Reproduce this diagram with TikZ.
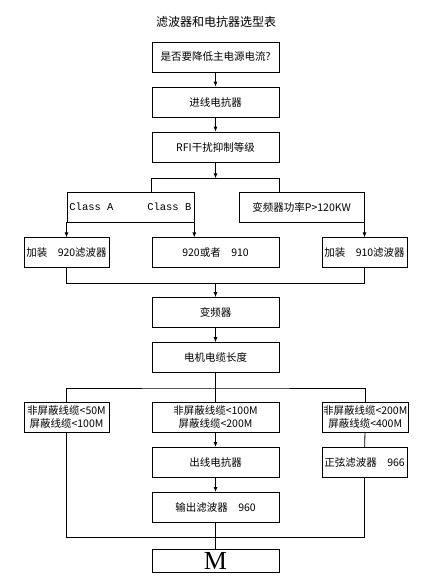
\documentclass[tikz,border=0pt]{standalone}
\usepackage{fontspec}
\setmainfont{Noto Sans CJK SC}
\newfontfamily\monofont{Liberation Mono}
\newfontfamily\serifont{Liberation Serif}
\usetikzlibrary{positioning,arrows.meta}

\begin{document}
\begin{tikzpicture}[
    node distance=14.2pt and 42.2pt,
    box/.style={
        rectangle, draw=black, line width=0.8pt,
        minimum width=#1, minimum height=30pt, inner sep=1pt,
        font=\fontsize{10.5}{13}\selectfont, align=center
    },
    box/.default=127pt,
    arrow/.style={-{Latex[length=5pt,width=4pt]}, line width=0.8pt},
    link/.style={line width=0.8pt}
]
\useasboundingbox (0,0) rectangle (436pt,-578pt);

% Title
\node[font=\fontsize{12}{14}\selectfont] (title) at (216pt,-22pt) {滤波器和电抗器选型表};

% Main column
\node[box] (query) at (215.5pt,-57pt) {是否要降低主电源电流?};
\node[box, below=of query] (inreact) {进线电抗器};
\node[box, below=of inreact] (rfi) {RFI干扰抑制等级};

% Filter level
\node[box, below=75pt of rfi] (or910) {920或者\hspace{1em}910};
\node[box=85pt, left=of or910] (add920) {加装\hspace{1em}920滤波器};
\node[box=85pt, right=of or910] (add910) {加装\hspace{1em}910滤波器};
\node[box, anchor=south west] (classab) at ([yshift=15pt]add920.north)
    {\monofont\makebox[122pt]{Class A\hfill Class B}};
\node[box=125pt, anchor=south east] (power) at ([yshift=15pt]add910.north)
    {变频器功率P>120KW};

% Inverter and cable
\node[box, below=29pt of or910] (inverter) {变频器};
\node[box, below=of inverter] (cable) {电机电缆长度};

% Cable length
\node[box, below=29pt of cable] (cmid) {非屏蔽线缆<100M\\屏蔽线缆<200M};
\node[box=85pt, left=of cmid] (cleft) {非屏蔽线缆<50M\\屏蔽线缆<100M};
\node[box=85pt, right=of cmid] (cright) {非屏蔽线缆<200M\\屏蔽线缆<400M};

% Output side
\node[box, below=of cmid] (outreact) {出线电抗器};
\node[box=85pt, right=of outreact] (sine) {正弦滤波器\hspace{1em}966};
\node[box, below=of outreact] (outfilt) {输出滤波器\hspace{1em}960};
\node[box, minimum height=23pt, inner sep=0pt, text height=17pt, text depth=0pt,
    below=26pt of outfilt, font=\serifont\fontsize{26}{26}\selectfont] (motor) {M};

% Junction points
\coordinate (jrfi) at ([yshift=-16pt]rfi.south);
\coordinate (jfilt) at ([yshift=-15pt]or910.south);
\coordinate (jcable) at ([yshift=-15pt]cable.south);
\coordinate (jout) at ([yshift=-15pt]outfilt.south);

% Arrows down the main column
\draw[arrow] (query) -- (inreact);
\draw[arrow] (inreact) -- (rfi);
\draw[arrow] (rfi) -- (jrfi);
\draw[link] (classab.north -| or910.west) |- (jrfi) -| (power.north -| or910.east);

% Filter choice
\draw[arrow] (classab.south west) -- (add920);
\draw[arrow] (classab.south east) -- (classab.south east |- or910.north);
\draw[arrow] (power.south east -| add910) -- (add910);
\draw[link] (add920) |- (jfilt) -| (add910);
\draw[arrow] (jfilt) -- (inverter);
\draw[arrow] (inverter) -- (cable);

% Cable branches
\draw[link] (cable) -- (jcable);
\draw[link] (cleft) |- (jcable) -| (cright);
\draw[link] (jcable) -- (cmid);
\draw[arrow] (cmid) -- (outreact);
\draw[link] (cright) -- (sine);
\draw[arrow] (outreact) -- (outfilt);

% Into the motor
\draw[link] (cleft) |- (jout) -| (sine);
\draw[link] (outfilt) -- (motor);

\end{tikzpicture}
\end{document}
